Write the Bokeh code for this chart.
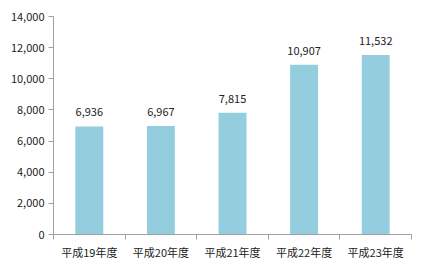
from bokeh.plotting import figure
from bokeh.models import ColumnDataSource, FixedTicker, Range1d, NumeralTickFormatter
from bokeh.core.properties import value
from bokeh.embed import file_html
from bokeh.resources import INLINE

categories = ["平成19年度", "平成20年度", "平成21年度", "平成22年度", "平成23年度"]
values = [6936, 6967, 7815, 10907, 11532]
y_ticks = [0, 2000, 4000, 6000, 8000, 10000, 12000, 14000]

xs = [i + 0.5 for i in range(len(categories))]
labels = [f"{v:,}" for v in values]
src = ColumnDataSource(dict(x=xs, top=values, label=labels))

FONT = "Noto Sans CJK JP"
AXIS_COLOR = "#a0a0a0"

p = figure(width=416, height=262, output_backend="svg", toolbar_location=None,
           x_range=Range1d(0, len(categories)), y_range=Range1d(0, 14000),
           min_border_left=53, min_border_right=5, min_border_top=16, min_border_bottom=27)
p.outline_line_color = None
p.grid.grid_line_color = None
p.background_fill_color = "white"
p.border_fill_color = "white"

p.vbar(x="x", top="top", width=0.39, source=src, fill_color="#94cddd", line_color=None)
p.text(x="x", y="top", text="label", source=src, text_align="center", text_baseline="bottom",
       y_offset=-10, text_font=value(FONT), text_font_size="11px", text_color="#222222")

xa = p.xaxis[0]
xa.ticker = FixedTicker(ticks=xs, minor_ticks=list(range(len(categories) + 1)))
xa.major_label_overrides = {x: c for x, c in zip(xs, categories)}
xa.major_tick_out = 0
xa.major_tick_in = 0
xa.minor_tick_out = 5
xa.minor_tick_in = 0
xa.minor_tick_line_color = AXIS_COLOR
xa.axis_line_color = AXIS_COLOR
xa.major_label_text_font = FONT
xa.major_label_text_font_size = "11px"
xa.major_label_text_color = "#222222"
xa.major_label_standoff = 4

ya = p.yaxis[0]
ya.ticker = FixedTicker(ticks=y_ticks)
ya.formatter = NumeralTickFormatter(format="0,0")
ya.major_tick_out = 5
ya.major_tick_in = 0
ya.minor_tick_line_color = None
ya.major_tick_line_color = AXIS_COLOR
ya.axis_line_color = AXIS_COLOR
ya.major_label_text_font = FONT
ya.major_label_text_font_size = "11px"
ya.major_label_text_color = "#222222"
ya.major_label_standoff = 4

open("out.html", "w").write(file_html(p, INLINE))
